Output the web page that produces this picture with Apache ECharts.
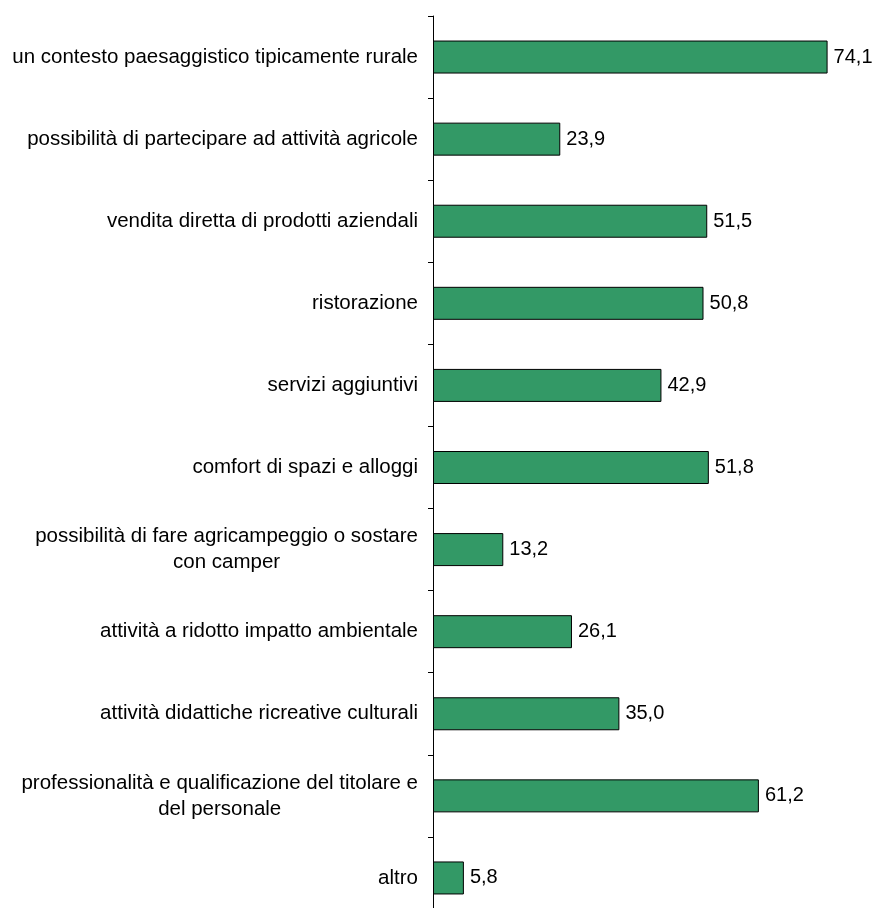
<!DOCTYPE html>
<html>
<head>
<meta charset="utf-8">
<script src="https://cdn.jsdelivr.net/npm/echarts@6/dist/echarts.min.js"></script>
<style>html,body{margin:0;padding:0;background:#fff}#c{width:872px;height:908px}</style>
</head>
<body>
<div id="c"></div>
<script>
const categories = [
  "un contesto paesaggistico tipicamente rurale",
  "possibilità di partecipare ad attività agricole",
  "vendita diretta di prodotti aziendali",
  "ristorazione",
  "servizi aggiuntivi",
  "comfort di spazi e alloggi",
  "possibilità di fare agricampeggio o sostare\ncon camper",
  "attività a ridotto impatto ambientale",
  "attività didattiche ricreative culturali",
  "professionalità e qualificazione del titolare e\ndel personale",
  "altro"
];
const values = [74.1, 23.9, 51.5, 50.8, 42.9, 51.8, 13.2, 26.1, 35.0, 61.2, 5.8];

const FONT = "'Liberation Sans', Arial, sans-serif";
const chart = echarts.init(document.getElementById('c'), null, {renderer: 'canvas'});
chart.setOption({
  animation: false,
  backgroundColor: '#fff',
  grid: {left: 433, width: 426, top: 16, height: 903, containLabel: false, outerBoundsMode: 'none'},
  xAxis: {type: 'value', min: 0, max: 80, show: false},
  yAxis: {
    type: 'category',
    data: categories,
    inverse: true,
    axisLine: {show: true, lineStyle: {color: '#000', width: 1}},
    axisTick: {show: true, length: 5, alignWithLabel: false, lineStyle: {color: '#000'}},
    axisLabel: {
      margin: 15,
      color: '#000',
      fontFamily: FONT,
      fontSize: 20.5,
      formatter: function (v) { return '{a|' + v.split('\n').join('}\n{a|') + '}'; },
      rich: {a: {fontFamily: FONT, fontSize: 20.5, color: '#000', align: 'center', lineHeight: 26}}
    },
    splitLine: {show: false}
  },
  series: [{
    type: 'bar',
    data: values,
    barWidth: 33,
    itemStyle: {color: '#339966', borderColor: '#000', borderWidth: 1},
    label: {
      show: true,
      position: 'right',
      distance: 6,
      color: '#000',
      fontFamily: FONT,
      fontSize: 20,
      formatter: function (p) { return p.value.toFixed(1).replace('.', ','); }
    }
  }]
});
</script>
</body>
</html>
